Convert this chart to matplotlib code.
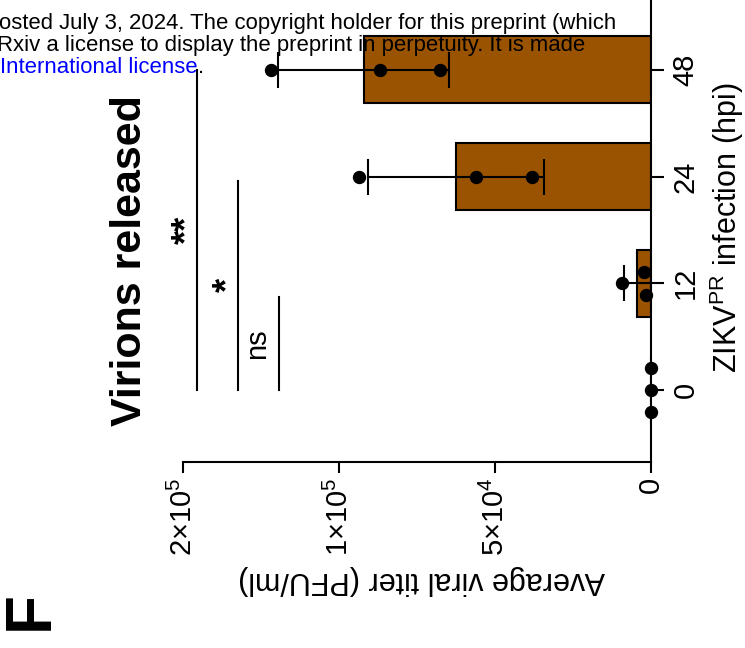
import numpy as np
import matplotlib
matplotlib.use("Agg")
import matplotlib.pyplot as plt
from matplotlib.ticker import FuncFormatter

plt.rcParams["font.family"] = ["Liberation Sans", "DejaVu Sans"]
plt.rcParams["mathtext.fontset"] = "custom"
plt.rcParams["mathtext.rm"] = "Liberation Sans"
plt.rcParams["mathtext.it"] = "Liberation Sans:italic"
plt.rcParams["mathtext.bf"] = "Liberation Sans:bold"

# ---- data ----------------------------------------------------------------
timepoints = ["0", "12", "24", "48"]            # hours post infection
titer_0h = [0.0, 0.0, 0.0]
titer_12h = [2200.0, 1600.0, 9300.0]
titer_24h = [93600.0, 56100.0, 38200.0]
titer_48h = [121900.0, 86900.0, 67700.0]
value_ticks = [0, 50000, 100000, 150000]
sig_labels = ["**", "*", "ns"]                  # 48 vs 0, 24 vs 0, 12 vs 0

replicates = [titer_0h, titer_12h, titer_24h, titer_48h]
means = [np.mean(r) for r in replicates]
sds = [np.std(r, ddof=1) for r in replicates]

W, H = 745, 648
def fx(px):
    return px / W
def fy(py):
    return 1 - py / H

fig = plt.figure(figsize=(W / 100, H / 100), dpi=100)
fig.patch.set_facecolor("white")

ax_left, ax_right, ax_bottom = 183.3, 651.0, 462.0
ax = fig.add_axes([fx(ax_left), fy(ax_bottom), fx(ax_right - ax_left), ax_bottom / H])

ypos = np.arange(len(timepoints))
bar_color = "#9A5300"

ax.barh(ypos, means, height=0.63, color=bar_color, edgecolor="black",
        linewidth=1.5, zorder=2)
ax.errorbar(means[1:], ypos[1:], xerr=sds[1:], fmt="none", ecolor="black",
            elinewidth=1.5, capsize=13, capthick=1.5, zorder=3)

# individual replicates, spread apart where they would overlap
spread = [[0.21, 0.0, -0.21], [0.11, -0.11, 0.0], [0, 0, 0], [0, 0, 0]]
for i, reps in enumerate(replicates):
    ax.plot(reps, ypos[i] + np.array(spread[i]), "o", color="black",
            markersize=8.6, zorder=5, clip_on=False)

ax.set_xlim(150000, 0)
ax.set_ylim(-0.675, 3.655)
ax.set_xticks(value_ticks)


def sci_label(v, pos):
    if v == 0:
        return "0"
    e = int(np.floor(np.log10(v)))
    m = round(v / 10 ** e)
    return r"$\mathregular{%d{\times}10^{%d}}$" % (m, e)


ax.xaxis.set_major_formatter(FuncFormatter(sci_label))
ax.set_yticks(ypos)
ax.set_yticklabels(timepoints)
ax.yaxis.tick_right()

for s in ["top", "left"]:
    ax.spines[s].set_visible(False)
for s in ["bottom", "right"]:
    ax.spines[s].set_linewidth(1.5)

ax.tick_params(axis="x", length=8, width=1.5, labelsize=21, labelrotation=90, pad=3)
ax.tick_params(axis="y", length=9, width=1.5, labelsize=21, labelrotation=90, pad=6)
for lbl in ax.get_yticklabels():
    lbl.set_va("center")

# significance brackets against 0 hpi
sig_x = [145600, 132500, 119300]
sig_top = [3.0, 1.96, 0.87]
for x, top, lab in zip(sig_x, sig_top, sig_labels):
    ax.plot([x, x], [0, top], color="black", lw=1.5, clip_on=False, zorder=4)
    if lab == "ns":
        ax.text(x + 7000, top / 2, lab, rotation=90, ha="center", va="center",
                fontsize=21, clip_on=False)
    else:
        ax.text(x + 3000, top / 2, lab, rotation=90, ha="center", va="center",
                fontsize=26, fontweight="bold", clip_on=False)

fig.text(fx(130), fy(261), "Virions released", rotation=90, ha="center",
         va="center", fontsize=31, fontweight="bold")
fig.text(fx(422), fy(580), "Average viral titer (PFU/ml)", rotation=180,
         ha="center", va="center", fontsize=22)
fig.text(fx(727), fy(228), r"ZIKV$^{\mathregular{PR}}$ infection (hpi)",
         rotation=90, ha="center", va="center", fontsize=22)
fig.text(fx(31), fy(611), "F", rotation=90, ha="center", va="center",
         fontsize=46, fontweight="bold")

# page header overlay
hdr = 15.9
fig.text(fx(-1), fy(29), "osted July 3, 2024. The copyright holder for this preprint (which",
         fontsize=hdr, va="baseline", ha="left", zorder=10)
fig.text(fx(-3), fy(51), "Rxiv a license to display the preprint in perpetuity. It is made",
         fontsize=hdr, va="baseline", ha="left", zorder=10)
t = fig.text(fx(0), fy(73), "International license", color="#0000FF",
             fontsize=hdr, va="baseline", ha="left", zorder=10)
fig.canvas.draw()
bb = t.get_window_extent()
fig.text(bb.x1 / W, fy(73), ".", fontsize=hdr, va="baseline", ha="left", zorder=10)

fig.savefig("out.png", dpi=100)
